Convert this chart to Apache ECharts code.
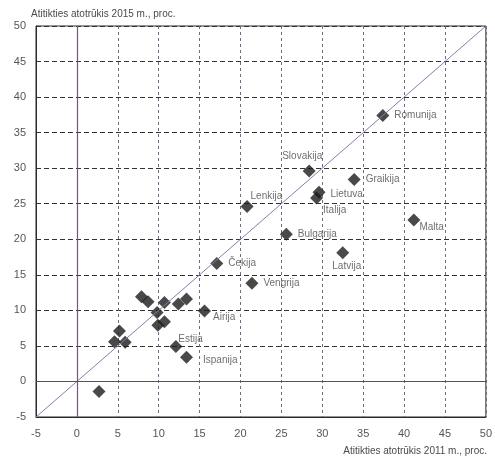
<!DOCTYPE html>
<html>
<head>
<meta charset="utf-8">
<script src="https://cdn.jsdelivr.net/npm/echarts@6/dist/echarts.min.js"></script>
<style>
  html, body { margin: 0; padding: 0; background: #fff; }
  #main { width: 495px; height: 463px; }
</style>
</head>
<body>
<div id="main"></div>
<script>
// duomenys: atitikties atotrūkis 2011 ir 2015 m.
var countries = ['Romunija', 'Slovakija', 'Graikija', 'Lietuva', 'Italija', 'Lenkija', 'Malta',
  'Bulgarija', 'Latvija', 'Čekija', 'Vengrija', 'Airija', 'Estija', 'Ispanija',
  '', '', '', '', '', '', '', '', '', '', '', ''];
var gap2011 = [37.4, 28.4, 33.9, 29.6, 29.3, 20.8, 41.2, 25.6, 32.5, 17.1, 21.4, 15.6, 12.1, 13.4,
  7.9, 8.7, 10.7, 9.8, 9.9, 10.7, 12.4, 13.4, 5.2, 4.6, 5.9, 2.7];
var gap2015 = [37.4, 29.6, 28.4, 26.6, 25.8, 24.6, 22.7, 20.7, 18.1, 16.6, 13.8, 9.9, 4.9, 3.4,
  11.9, 11.2, 11.1, 9.7, 7.9, 8.4, 10.9, 11.6, 7.1, 5.6, 5.5, -1.4];
var axisMin = -5, axisMax = 50, axisStep = 5;

// kur dėti etiketes
var labelPlace = {
  'Romunija': ['right', [0, 0]],
  'Slovakija': ['top', [-7, 2]],
  'Graikija': ['right', [0, 0]],
  'Lietuva': ['right', [0, 2]],
  'Italija': ['right', [-5, 12]],
  'Lenkija': ['right', [-8, -10]],
  'Malta': ['right', [-6, 7]],
  'Bulgarija': ['right', [0, 0]],
  'Latvija': ['bottom', [4, -3]],
  'Čekija': ['right', [0, 0]],
  'Vengrija': ['right', [0, 0]],
  'Airija': ['right', [-3, 6]],
  'Estija': ['right', [-9, -7]],
  'Ispanija': ['right', [5, 3]]
};

var font = 'Liberation Sans, Arial, sans-serif';

var points = countries.map(function (name, i) {
  var item = { name: name, value: [gap2011[i], gap2015[i]] };
  if (name && labelPlace[name]) {
    item.label = { show: true, position: labelPlace[name][0], offset: labelPlace[name][1] };
  }
  return item;
});

var chart = echarts.init(document.getElementById('main'));
chart.setOption({
  animation: false,
  backgroundColor: '#fff',
  textStyle: { fontFamily: font },
  title: {
    text: 'Atitikties atotrūkis 2015 m., proc.',
    left: 26, top: 4,
    textStyle: { fontSize: 10, fontWeight: 'normal', color: '#4a4a4a', fontFamily: font }
  },
  graphic: [{
    type: 'text', right: 8, top: 446,
    style: { text: 'Atitikties atotrūkis 2011 m., proc.', fontSize: 10, fill: '#4a4a4a', fontFamily: font }
  }],
  grid: { left: 36, right: 8, top: 26, bottom: 46, show: true, borderColor: '#2a2a2a', borderWidth: 1 },
  xAxis: {
    type: 'value', min: axisMin, max: axisMax, interval: axisStep,
    axisLine: { onZero: false, lineStyle: { color: '#2a2a2a' } },
    axisTick: { show: false },
    axisLabel: { color: '#555', fontSize: 11, margin: 11, fontFamily: font },
    splitLine: { show: true, lineStyle: { color: '#7c6488', type: [3, 3], width: 1 } }
  },
  yAxis: {
    type: 'value', min: axisMin, max: axisMax, interval: axisStep,
    axisLine: { onZero: false, lineStyle: { color: '#2a2a2a' } },
    axisTick: { show: false },
    axisLabel: { color: '#555', fontSize: 11, margin: 10, fontFamily: font },
    splitLine: { show: true, lineStyle: { color: '#333', type: [5, 3], width: 1 } }
  },
  series: [
    {
      type: 'line',
      data: [[axisMin, axisMin], [axisMax, axisMax]],
      symbol: 'none',
      silent: true,
      lineStyle: { color: '#8a7bab', width: 1 },
      markLine: {
        silent: true,
        symbol: 'none',
        label: { show: false },
        data: [
          { xAxis: 0, lineStyle: { color: '#6e5a7c', type: 'solid', width: 1.2 } },
          { yAxis: 0, lineStyle: { color: '#555', type: 'solid', width: 1.2 } }
        ]
      }
    },
    {
      type: 'scatter',
      data: points,
      symbol: 'diamond',
      symbolSize: 13,
      itemStyle: { color: '#1c1c1c' },
      label: {
        show: false,
        formatter: '{b}',
        fontSize: 10,
        color: '#4a4a4a',
        fontFamily: font
      }
    }
  ]
});
</script>
</body>
</html>
